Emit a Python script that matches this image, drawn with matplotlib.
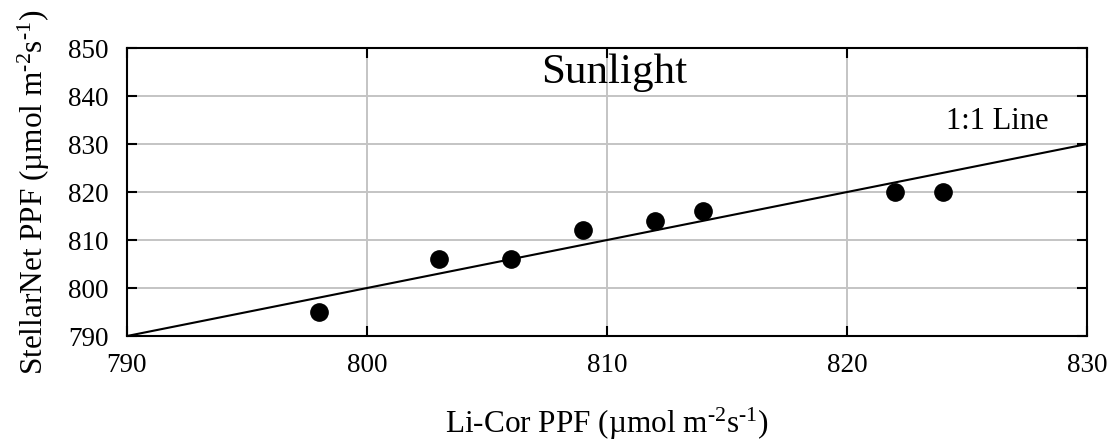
import numpy as np
import matplotlib
matplotlib.use('Agg')
import matplotlib.pyplot as plt

plt.rcParams['font.family'] = 'Liberation Serif'
plt.rcParams['mathtext.fontset'] = 'custom'
plt.rcParams['mathtext.rm'] = 'Liberation Serif'
plt.rcParams['mathtext.it'] = 'Liberation Serif:italic'
plt.rcParams['mathtext.default'] = 'rm'

# data
licor = [798, 803, 806, 809, 812, 814, 822, 824]
stellarnet = [795, 806, 806, 812, 814, 816, 820, 820]
one_to_one = [790, 830]
xticks = [790, 800, 810, 820, 830]
yticks = [790, 800, 810, 820, 830, 840, 850]

fig = plt.figure(figsize=(11.12, 4.43), dpi=100)
ax = fig.add_axes([0.1142, 0.2415, 0.8633, 0.650])

ax.plot(one_to_one, one_to_one, color='black', lw=1.5, zorder=3)
ax.scatter(licor, stellarnet, s=155, color='black', zorder=4, clip_on=False)

ax.set_xlim(790, 830)
ax.set_ylim(790, 850)
ax.set_xticks(xticks)
ax.set_yticks(yticks)
ax.grid(True, color='#c4c4c4', lw=1.4, zorder=0)
ax.set_axisbelow(True)
ax.tick_params(direction='in', top=True, right=True, length=7, width=1.5,
               labelsize=19.5)
ax.tick_params(axis='x', pad=12)
ax.tick_params(axis='y', pad=13)
for s in ax.spines.values():
    s.set_linewidth(1.5)

ax.set_xlabel(r'Li-Cor PPF (µmol m$^{\text{-}2}$s$^{\text{-}1}$)', fontsize=22.5, labelpad=20)
ax.set_ylabel(r'StellarNet PPF (µmol m$^{\text{-}2}$s$^{\text{-}1}$)', fontsize=22.5, labelpad=12)

ax.text(0.507, 0.915, 'Sunlight', transform=ax.transAxes, ha='center', va='center',
        fontsize=31)
ax.text(828.4, 834.6, '1:1 Line', ha='right', va='center', fontsize=22)

fig.savefig('out.png', dpi=100)
